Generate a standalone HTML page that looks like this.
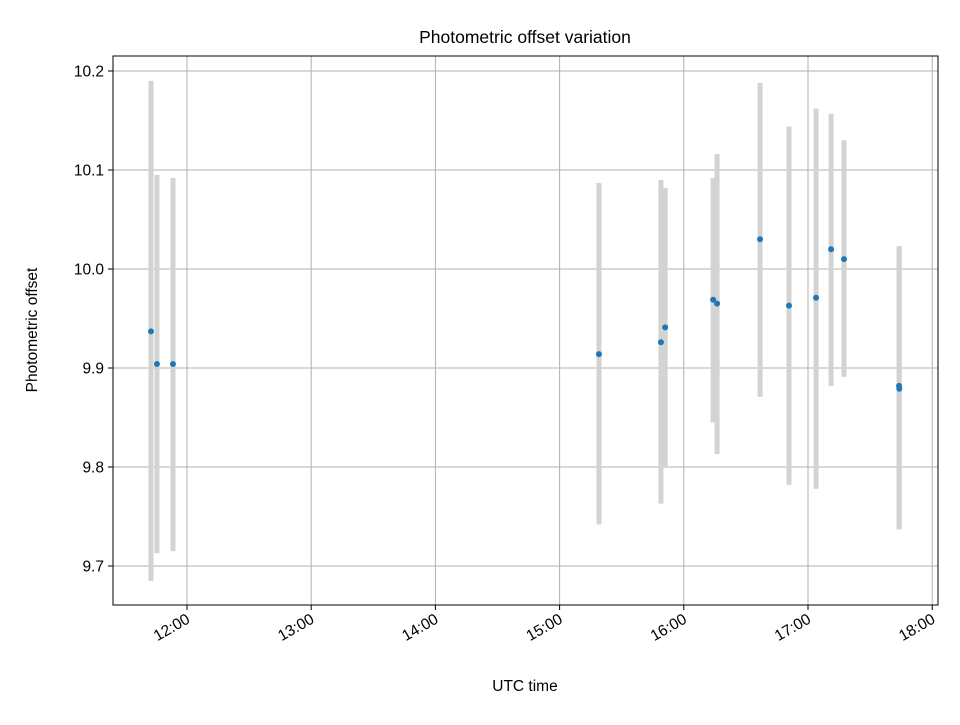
<!DOCTYPE html>
<html><head><meta charset="utf-8"><style>body{margin:0;background:#fff}svg text{font-family:"Liberation Sans","DejaVu Sans",sans-serif}</style></head>
<body>
<svg id="chart" width="960" height="720" xmlns="http://www.w3.org/2000/svg">
<rect width="960" height="720" fill="#fff"/>
<text x="525" y="43" font-size="17.5" text-anchor="middle">Photometric offset variation</text>
<g id="grid"></g><g id="bars"></g><g id="pts"></g><g id="ticks"></g>
<rect x="113" y="56" width="825" height="549" fill="none" stroke="#000" stroke-width="1"/>
<text x="525" y="691" font-size="15.5" text-anchor="middle">UTC time</text>
<text transform="translate(37,330) rotate(-90)" font-size="15.5" text-anchor="middle">Photometric offset</text>
</svg>
<script>
const times=[11.71,11.758,11.887,15.317,15.816,15.85,16.236,16.268,16.614,16.847,17.065,17.186,17.29,17.733,17.735];
const values=[9.937,9.904,9.904,9.914,9.926,9.941,9.969,9.965,10.03,9.963,9.971,10.02,10.01,9.882,9.879];
const lows=[9.685,9.713,9.715,9.742,9.763,9.80,9.845,9.813,9.871,9.782,9.778,9.882,9.891,9.737,9.737];
const highs=[10.19,10.095,10.092,10.087,10.09,10.082,10.092,10.116,10.188,10.144,10.162,10.157,10.13,10.023,10.023];
const xTicks=[12,13,14,15,16,17,18];
const xTickLabels=["12:00","13:00","14:00","15:00","16:00","17:00","18:00"];
const yTicks=[9.7,9.8,9.9,10.0,10.1,10.2];
const yTickLabels=["9.7","9.8","9.9","10.0","10.1","10.2"];
const X=h=>187+(h-12)*124.2, Y=v=>71+(10.2-v)*990;
const NS="http://www.w3.org/2000/svg";
function mk(p,t,a){const e=document.createElementNS(NS,t);for(const k in a)e.setAttribute(k,a[k]);document.getElementById(p).appendChild(e);return e;}
xTicks.forEach((t,i)=>{const x=X(t);
 let g=mk('grid','line',{x1:x,x2:x,y1:56,y2:605,stroke:'#b0b0b0','stroke-width':1});
 
 
 let k=mk('ticks','line',{x1:x,x2:x,y1:605,y2:610,stroke:'#000'});
 
 
 let l=mk('ticks','text',{x:x+4,y:622,'font-size':15.5,'text-anchor':'end',transform:`rotate(-30 ${x+4} 622)`});
 l.textContent=xTickLabels[i];
 
 });
yTicks.forEach((t,i)=>{const y=Y(t);
 let g=mk('grid','line',{x1:113,x2:938,y1:y,y2:y,stroke:'#b0b0b0','stroke-width':1});
 
 
 let k=mk('ticks','line',{x1:108,x2:113,y1:y,y2:y,stroke:'#000'});
 
 
 let l=mk('ticks','text',{x:104,y:y+5.5,'font-size':15.5,'text-anchor':'end'});
 l.textContent=yTickLabels[i];
 
 });
times.forEach((t,i)=>{const x=X(t);
 let b=mk('bars','line',{x1:x,x2:x,y1:Y(lows[i]),y2:Y(highs[i]),stroke:'#d3d3d3','stroke-width':5});
 
 
 let c=mk('pts','circle',{cx:x,cy:Y(values[i]),r:3,fill:'#1f77b4'});
 
 });
</script>
</body></html>
